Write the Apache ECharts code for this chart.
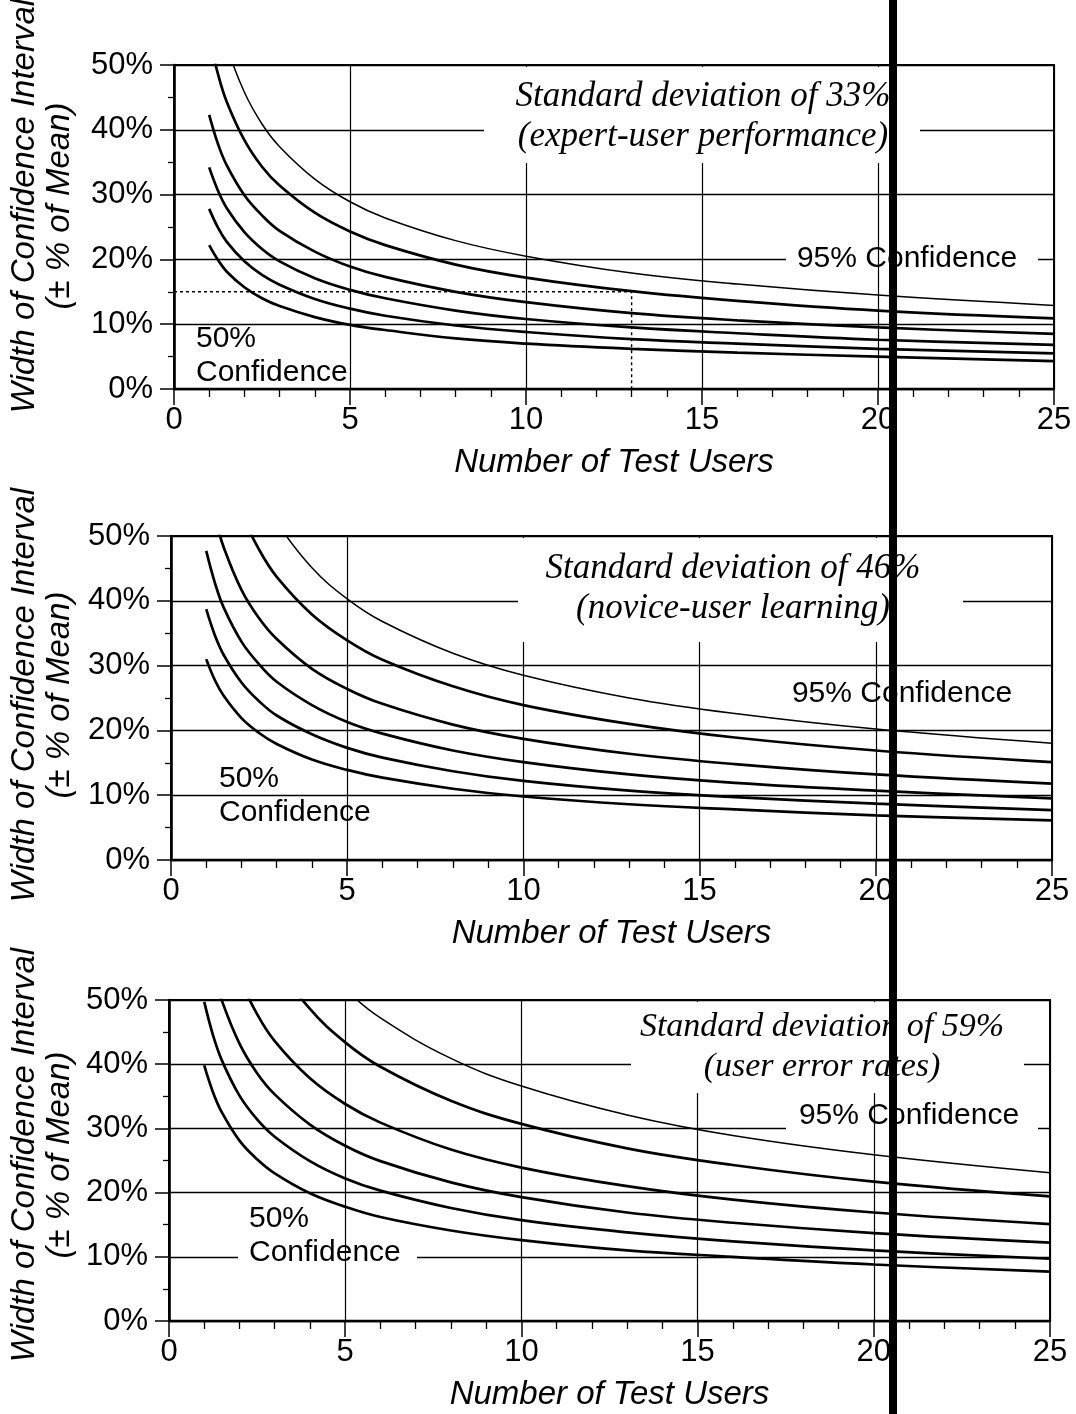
<!DOCTYPE html>
<html>
<head>
<meta charset="utf-8">
<script src="https://cdn.jsdelivr.net/npm/echarts@6/dist/echarts.min.js"></script>
<style>
  html, body { margin: 0; padding: 0; background: #fff; }
  #chart { width: 1076px; height: 1414px; }
</style>
</head>
<body>
<div id="chart"></div>
<script>
// Number of test users sampled along each curve
const users = [1, 1.25, 1.5, 2, 2.5, 3, 4, 5, 6, 8, 10, 13, 16, 20, 25];
const confidenceLevels = ['50%', '60%', '70%', '80%', '90%', '95%'];

// Standard deviation of 33% (expert-user performance)
const expertCurves = [
  [22.2, 19.9, 18.1, 15.7, 14.0, 12.8, 11.1, 9.9, 9.1, 7.8, 7.0, 6.2, 5.6, 5.0, 4.3],
  [27.8, 24.9, 22.7, 19.7, 17.6, 16.1, 13.9, 12.4, 11.3, 9.8, 8.8, 7.7, 7.0, 6.2, 5.5],
  [34.2, 30.6, 27.9, 24.2, 21.6, 19.7, 17.1, 15.3, 14.0, 12.1, 10.8, 9.5, 8.6, 7.6, 6.8],
  [42.3, 37.8, 34.5, 29.9, 26.8, 24.4, 21.2, 18.9, 17.3, 15.0, 13.4, 11.7, 10.6, 9.5, 8.5],
  [54.3, 48.6, 44.3, 38.4, 34.3, 31.4, 27.2, 24.3, 22.2, 19.2, 17.2, 15.1, 13.6, 12.1, 10.9],
  [64.7, 57.9, 52.8, 45.8, 40.9, 37.4, 32.4, 28.9, 26.4, 22.9, 20.5, 17.9, 16.2, 14.5, 12.9]
];

// Standard deviation of 46% (novice-user learning)
const noviceCurves = [
  [31.0, 27.7, 25.3, 21.9, 19.6, 17.9, 15.5, 13.9, 12.7, 11.0, 9.8, 8.6, 7.8, 6.9, 6.1],
  [38.7, 34.6, 31.6, 27.4, 24.5, 22.3, 19.4, 17.3, 15.8, 13.7, 12.2, 10.7, 9.7, 8.7, 7.7],
  [47.7, 42.7, 38.9, 33.7, 30.2, 27.5, 23.9, 21.3, 19.5, 16.9, 15.1, 13.2, 11.9, 10.7, 9.5],
  [59.0, 52.8, 48.2, 41.7, 37.3, 34.1, 29.5, 26.4, 24.1, 20.9, 18.7, 16.4, 14.8, 13.2, 11.8],
  [75.7, 67.7, 61.8, 53.5, 47.9, 43.7, 37.9, 33.9, 30.9, 26.8, 23.9, 21.0, 18.9, 16.9, 15.1],
  [90.2, 80.7, 73.6, 63.8, 57.1, 52.1, 45.1, 40.3, 36.8, 31.9, 28.5, 25.0, 22.6, 20.2, 18.0]
];

// Standard deviation of 59% (user error rates)
const errorCurves = [
  [39.8, 35.6, 32.5, 28.1, 25.2, 23.0, 19.9, 17.8, 16.2, 14.1, 12.6, 11.0, 10.0, 8.8, 7.7],
  [49.7, 44.5, 40.6, 35.1, 31.4, 28.7, 24.9, 22.2, 20.3, 17.6, 15.7, 13.8, 12.4, 11.0, 9.7],
  [61.1, 54.6, 49.9, 43.2, 38.6, 35.3, 30.6, 27.3, 24.9, 21.6, 19.3, 16.9, 15.3, 13.7, 12.2],
  [75.6, 67.6, 61.7, 53.5, 47.8, 43.6, 37.8, 33.8, 30.9, 26.7, 23.9, 21.0, 18.9, 16.9, 15.1],
  [97.1, 86.8, 79.3, 68.7, 61.4, 56.1, 48.6, 43.4, 39.6, 34.3, 30.7, 26.9, 24.3, 21.7, 19.4],
  [115.6, 103.4, 94.4, 81.7, 73.1, 66.7, 57.8, 51.7, 47.2, 40.9, 36.6, 32.1, 28.9, 25.9, 23.1]
];

// Dotted reading guide in the top panel: 13 users -> about 15%
const guideUsers = 13;
const guideWidth = 15;

const xTicks = [0, 5, 10, 15, 20, 25];
const yTicks = [0, 10, 20, 30, 40, 50];

const panelCurves = [expertCurves, noviceCurves, errorCurves];
const panelTitles = [
  'Standard deviation of 33%\n(expert-user performance)',
  'Standard deviation of 46%\n(novice-user learning)',
  'Standard deviation of 59%\n(user error rates)'
];

const SANS = '"Liberation Sans", Arial, Helvetica, sans-serif';
const SERIF = '"Liberation Serif", "Times New Roman", serif';

// layout of the three stacked plots (pixels)
const panels = [
  { left: 174, right: 22, top: 65, height: 324,
    title: { x: 484, y: 67, w: 436, h: 96, cx: 703, cy: 117, size: 35 },
    hiLabel: { cx: 907, cy: 259, box: [786, 246, 252, 27] },
    loLabel: { x: 196, y: 356, box: null },
    yName: 206 },
  { left: 171, right: 24, top: 536, height: 324,
    title: { x: 518, y: 538, w: 445, h: 104, cx: 733, cy: 589, size: 35 },
    hiLabel: { cx: 902, cy: 694, box: null },
    loLabel: { x: 219, y: 796, box: null },
    yName: 695 },
  { left: 169, right: 26, top: 1000, height: 321,
    title: { x: 631, y: 1002, w: 393, h: 91, cx: 822, cy: 1047, size: 34 },
    hiLabel: { cx: 909, cy: 1116, box: [786, 1103, 252, 29] },
    loLabel: { x: 249, y: 1236, box: [238, 1241, 179, 22] },
    yName: 1155 }
];

const grids = [];
const xAxes = [];
const yAxes = [];
const series = [];
const graphics = [];

panels.forEach((p, i) => {
  grids.push({
    left: p.left, right: p.right, top: p.top, height: p.height,
    show: true, borderColor: '#000', borderWidth: 2, backgroundColor: 'transparent'
  });

  xAxes.push({
    gridIndex: i, type: 'value', min: xTicks[0], max: xTicks[xTicks.length - 1],
    interval: xTicks[1] - xTicks[0], z: 3,
    axisLine: { show: true, lineStyle: { color: '#000', width: 2.4 } },
    axisTick: { show: true, length: 16, lineStyle: { color: '#000', width: 1.5 } },
    minorTick: { show: true, splitNumber: 5, length: 8, lineStyle: { color: '#000', width: 1.3 } },
    axisLabel: { color: '#000', fontFamily: SANS, fontSize: 31, margin: 16 },
    splitLine: { show: true, lineStyle: { color: '#000', width: 1.2 } },
    name: 'Number of Test Users', nameLocation: 'middle', nameGap: 57,
    nameTextStyle: { color: '#000', fontFamily: SANS, fontSize: 33, fontStyle: 'italic' }
  });

  yAxes.push({
    gridIndex: i, type: 'value', min: yTicks[0], max: yTicks[yTicks.length - 1],
    interval: yTicks[1] - yTicks[0], z: 0,
    axisLine: { show: true, lineStyle: { color: '#000', width: 2.6 } },
    axisTick: { show: true, length: 14, lineStyle: { color: '#000', width: 1.5 } },
    minorTick: { show: true, splitNumber: 2, length: 6, lineStyle: { color: '#000', width: 1.3 } },
    axisLabel: { color: '#000', fontFamily: SANS, fontSize: 31, margin: 21, formatter: '{value}%' },
    splitLine: { show: true, lineStyle: { color: '#000', width: 1.4 } }
  });

  panelCurves[i].forEach((curve, j) => {
    series.push({
      name: confidenceLevels[j] + ' confidence',
      type: 'line', xAxisIndex: i, yAxisIndex: i,
      data: users.map((n, k) => [n, curve[k]]),
      showSymbol: false, smooth: 0.4, clip: true, z: 2,
      lineStyle: { color: '#000', width: j === confidenceLevels.length - 1 ? 1.5 : 2.7 }
    });
  });

  // title box (covers grid lines in both directions)
  graphics.push({
    type: 'rect', z: 10,
    shape: { x: p.title.x, y: p.title.y, width: p.title.w, height: p.title.h },
    style: { fill: '#fff' }
  });
  graphics.push({
    type: 'text', z: 11, x: p.title.cx, y: p.title.cy,
    style: {
      text: panelTitles[i], fill: '#000',
      font: 'italic ' + p.title.size + 'px ' + SERIF, lineHeight: 40,
      align: 'center', verticalAlign: 'middle', textAlign: 'center', textVerticalAlign: 'middle'
    }
  });

  // "95% Confidence" label
  if (p.hiLabel.box) {
    graphics.push({
      type: 'rect', z: 1,
      shape: { x: p.hiLabel.box[0], y: p.hiLabel.box[1], width: p.hiLabel.box[2], height: p.hiLabel.box[3] },
      style: { fill: '#fff' }
    });
  }
  graphics.push({
    type: 'text', z: 11, x: p.hiLabel.cx, y: p.hiLabel.cy,
    style: {
      text: '95% Confidence', fill: '#000', font: '30px ' + SANS,
      align: 'center', verticalAlign: 'middle', textAlign: 'center', textVerticalAlign: 'middle'
    }
  });

  // "50% Confidence" label
  if (p.loLabel.box) {
    graphics.push({
      type: 'rect', z: 1,
      shape: { x: p.loLabel.box[0], y: p.loLabel.box[1], width: p.loLabel.box[2], height: p.loLabel.box[3] },
      style: { fill: '#fff' }
    });
  }
  graphics.push({
    type: 'text', z: 11, x: p.loLabel.x, y: p.loLabel.y,
    style: {
      text: '50%\nConfidence', fill: '#000', font: '30px ' + SANS, lineHeight: 34,
      align: 'left', verticalAlign: 'middle', textAlign: 'left', textVerticalAlign: 'middle'
    }
  });

  // rotated y-axis title, two lines
  graphics.push({
    type: 'text', z: 11, x: 25, y: p.yName, rotation: Math.PI / 2,
    style: {
      text: 'Width of Confidence Interval', fill: '#000', font: 'italic 33px ' + SANS,
      align: 'center', verticalAlign: 'middle', textAlign: 'center', textVerticalAlign: 'middle'
    }
  });
  graphics.push({
    type: 'text', z: 11, x: 60, y: p.yName, rotation: Math.PI / 2,
    style: {
      text: '(± % of Mean)', fill: '#000', font: 'italic 33px ' + SANS,
      align: 'center', verticalAlign: 'middle', textAlign: 'center', textVerticalAlign: 'middle'
    }
  });
});

// dotted guide in the first panel
series.push({
  name: 'guide', type: 'line', xAxisIndex: 0, yAxisIndex: 0,
  data: [[0, guideWidth], [guideUsers, guideWidth], [guideUsers, 0]],
  showSymbol: false, z: 2,
  lineStyle: { color: '#000', width: 1.4, type: [3, 3] }
});

// dark scan bar running down the page
graphics.push({
  type: 'rect', z: 100,
  shape: { x: 889, y: 0, width: 8, height: 1414 },
  style: { fill: '#000' }
});

const chart = echarts.init(document.getElementById('chart'), null, { renderer: 'canvas' });
chart.setOption({
  animation: false,
  backgroundColor: '#fff',
  grid: grids,
  xAxis: xAxes,
  yAxis: yAxes,
  series: series,
  graphic: { elements: graphics }
});
</script>
</body>
</html>
